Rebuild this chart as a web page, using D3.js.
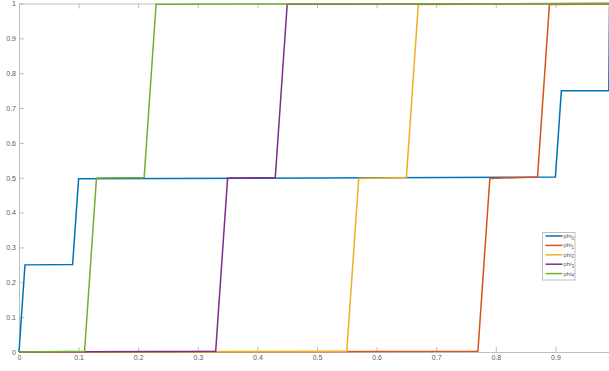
<!DOCTYPE html>
<html>
<head>
<meta charset="utf-8">
<script src="https://cdn.jsdelivr.net/npm/d3@7"></script>
<style>
  html, body { margin: 0; padding: 0; background: #fff; }
  svg { display: block; font-family: "Liberation Sans", Arial, sans-serif; }
</style>
</head>
<body>
<svg id="chart" width="609" height="371"></svg>
<script>
// Basis functions phi_0 .. phi_4 as [x, value] breakpoints
const phi0 = [[0, 0], [0.01, 0.25], [0.09, 0.251], [0.1, 0.497], [0.9, 0.502], [0.91, 0.75], [0.9896, 0.75], [0.9908, 1.0]];
const phi1 = [[0, 0], [0.77, 0.002], [0.79, 0.498], [0.87, 0.502], [0.89, 0.997], [1.0, 0.999]];
const phi2 = [[0, 0], [0.55, 0.002], [0.57, 0.498], [0.65, 0.501], [0.67, 0.997], [1.0, 1.0]];
const phi3 = [[0, 0], [0.33, 0.002], [0.35, 0.499], [0.43, 0.501], [0.45, 0.998], [1.0, 1.0]];
const phi4 = [[0, 0], [0.11, 0.002], [0.13, 0.499], [0.21, 0.501], [0.23, 0.998], [1.0, 1.0]];

const seriesNames = ["0", "1", "2", "3", "4"];
const seriesColors = ["#0072BD", "#D95319", "#EDB120", "#7E2F8E", "#77AC30"];

const xTickValues = [0, 0.1, 0.2, 0.3, 0.4, 0.5, 0.6, 0.7, 0.8, 0.9];
const xTickLabels = ["0", "0.1", "0.2", "0.3", "0.4", "0.5", "0.6", "0.7", "0.8", "0.9"];
const yTickValues = [0, 0.1, 0.2, 0.3, 0.4, 0.5, 0.6, 0.7, 0.8, 0.9, 1];
const yTickLabels = ["0", "0.1", "0.2", "0.3", "0.4", "0.5", "0.6", "0.7", "0.8", "0.9", "1"];

const series = [phi0, phi1, phi2, phi3, phi4];

const svg = d3.select("#chart");
const plotLeft = 19, plotRight = 615, plotTop = 3.5, plotBottom = 352;

const x = d3.scaleLinear().domain([0, 1]).range([plotLeft, plotRight]);
const y = d3.scaleLinear().domain([0, 1]).range([plotBottom, plotTop]);

const axisColor = "#bfbfbf";
const textColor = "#5a5a5a";

function styleAxis(g) {
  g.selectAll("path.domain").attr("stroke", axisColor);
  g.selectAll(".tick line").attr("stroke", axisColor);
  g.selectAll(".tick text").attr("fill", textColor).attr("font-size", "7px");
}

// Bottom axis, ticks pointing inward
svg.append("g")
  .attr("transform", `translate(0,${plotBottom})`)
  .call(d3.axisBottom(x).tickValues(xTickValues)
    .tickFormat((d, i) => xTickLabels[i])
    .tickSizeInner(-5).tickSizeOuter(0).tickPadding(3))
  .call(styleAxis);

// Top edge of the box
svg.append("g")
  .attr("transform", `translate(0,${plotTop})`)
  .call(d3.axisTop(x).tickValues(xTickValues).tickFormat("")
    .tickSizeInner(-5).tickSizeOuter(0))
  .call(styleAxis);

// Left axis
svg.append("g")
  .attr("transform", `translate(${plotLeft},0)`)
  .call(d3.axisLeft(y).tickValues(yTickValues)
    .tickFormat((d, i) => yTickLabels[i])
    .tickSizeInner(-5).tickSizeOuter(0).tickPadding(3))
  .call(styleAxis);

// Curves
const line = d3.line().x(d => x(d[0])).y(d => y(d[1]));
svg.append("g")
  .selectAll("path")
  .data(series)
  .join("path")
  .attr("d", line)
  .attr("fill", "none")
  .attr("stroke", (d, i) => seriesColors[i])
  .attr("stroke-width", 1.5)
  .attr("stroke-linejoin", "miter");

// Legend
const lg = svg.append("g").attr("transform", "translate(542.5,232.5)");
lg.append("rect")
  .attr("width", 32.5).attr("height", 47.5)
  .attr("fill", "#fff").attr("stroke", axisColor).attr("stroke-width", 1);
seriesNames.forEach((s, i) => {
  const yy = 3.5 + i * 9.4;
  lg.append("line")
    .attr("x1", 3).attr("x2", 20).attr("y1", yy).attr("y2", yy)
    .attr("stroke", seriesColors[i]).attr("stroke-width", 1.5);
  const t = lg.append("text")
    .attr("x", 21).attr("y", yy + 2)
    .attr("font-size", "6px").attr("fill", textColor);
  t.append("tspan").text("phi");
  t.append("tspan").attr("font-size", "4.5px").attr("dy", 1.5).text(s);
});
</script>
</body>
</html>
